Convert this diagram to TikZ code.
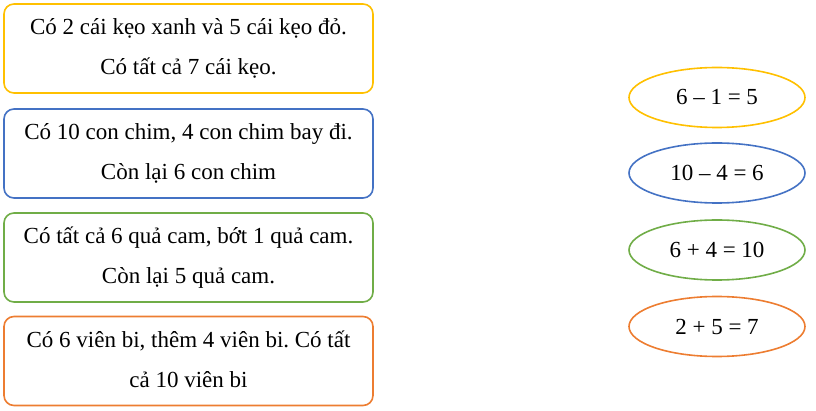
\documentclass[tikz,border=0pt]{standalone}
\usepackage{fontspec}
\setmainfont{Liberation Serif}
\usetikzlibrary{shapes.geometric}
\frenchspacing
\definecolor{cyellow}{HTML}{FFC000}
\definecolor{cblue}{HTML}{4472C4}
\definecolor{cgreen}{HTML}{70AD47}
\definecolor{corange}{HTML}{ED7D31}
\tikzset{
  probbox/.style={draw=#1, line width=1.6pt, rounded corners=10pt, fill=white,
    minimum width=369pt, minimum height=89pt, inner sep=0pt},
  probtext/.style={align=center, inner sep=0pt, anchor=base,
    font=\fontsize{23}{39.5}\selectfont},
  eqell/.style={draw=#1, line width=1.6pt, ellipse, fill=white,
    minimum width=176pt, minimum height=60pt, inner sep=0pt,
    font=\fontsize{23}{27}\selectfont}
}
\begin{document}
\frenchspacing
\begin{tikzpicture}[x=1pt,y=-1pt]
\useasboundingbox (0,0) rectangle (816,411);
\node[probbox=cyellow] (b1) at (188.5,48.5) {};
\node[probtext] (t1) at ([yshift=-26pt]b1.center) {Có 2 cái kẹo xanh và 5 cái kẹo đỏ.\\Có tất cả 7 cái kẹo.};
\node[probbox=cblue] (b2) at (188.5,153.5) {};
\node[probtext] (t2) at ([yshift=-26pt]b2.center) {Có 10 con chim, 4 con chim bay đi.\\Còn lại 6 con chim};
\node[probbox=cgreen] (b3) at (188.5,257.5) {};
\node[probtext] (t3) at ([yshift=-26pt]b3.center) {Có tất cả 6 quả cam, bớt 1 quả cam.\\Còn lại 5 quả cam.};
\node[probbox=corange] (b4) at (188.5,361) {};
\node[probtext] (t4) at ([yshift=-26pt]b4.center) {Có 6 viên bi, thêm 4 viên bi. Có tất\\cả 10 viên bi};
\node[eqell=cyellow] (e1) at (717,97.5) {6 – 1 = 5};
\node[eqell=cblue] (e2) at (717,173) {10 – 4 = 6};
\node[eqell=cgreen] (e3) at (717,250) {6 + 4 = 10};
\node[eqell=corange] (e4) at (717,326.5) {2 + 5 = 7};
\end{tikzpicture}
\end{document}
